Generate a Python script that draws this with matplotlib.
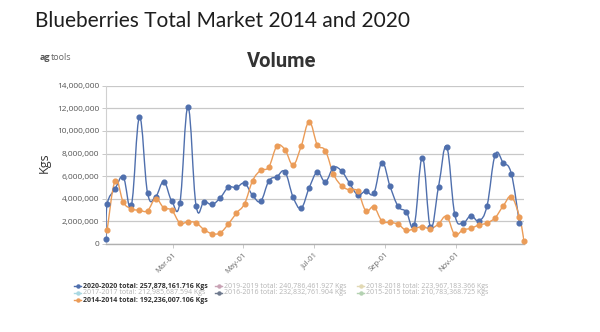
import numpy as np
import pandas as pd
import matplotlib
matplotlib.use('Agg')
import matplotlib.pyplot as plt
import matplotlib.dates as mdates
from matplotlib.path import Path
from matplotlib.patches import PathPatch
from matplotlib.lines import Line2D

# weekly volumes (million kg), 2014 season drawn on the 2020 calendar
weeks = pd.date_range('2020-01-04', periods=52, freq='7D')
vol_2020 = [3.5, 4.9, 5.9, 3.45, 11.2, 4.5, 4.2, 5.5, 3.8, 3.65,
            12.1, 3.4, 3.75, 3.5, 4.1, 5.0, 5.0, 5.36, 4.3, 3.8,
            5.57, 5.95, 6.37, 4.16, 3.18, 4.98, 6.34, 5.51, 6.75, 6.45,
            5.36, 4.36, 4.69, 4.51, 7.19, 5.1, 3.33, 2.86, 1.71, 7.63,
            1.47, 5.07, 8.61, 2.65, 1.86, 2.5, 2.06, 3.39, 7.87, 7.19,
            6.22, 1.86]
vol_2014 = [1.24, 5.6, 3.7, 3.12, 2.98, 2.95, 4.0, 3.2, 2.98, 1.86,
            1.97, 1.86, 1.27, 0.91, 1.0, 1.77, 2.74, 3.57, 5.6, 6.51,
            6.81, 8.64, 8.34, 7.01, 8.64, 10.79, 8.78, 8.25, 6.19, 5.16,
            4.77, 4.66, 2.95, 3.27, 2.03, 1.92, 1.74, 1.21, 1.36, 1.53,
            1.36, 1.77, 2.42, 0.85, 1.24, 1.39, 1.68, 1.86, 2.33, 3.36,
            4.16, 2.42]
# partial weeks at the year edges
lead_2020 = (pd.Timestamp('2020-01-03'), 0.41)
tail_2014 = (pd.Timestamp('2020-12-30'), 0.27)

legend_labels = ['2020-2020 total: 257,878,161.716 Kgs',
                 '2019-2019 total: 240,786,461.927 Kgs',
                 '2018-2018 total: 223,967,183.366 Kgs',
                 '2017-2017 total: 212,985,687.594 Kgs',
                 '2016-2016 total: 232,832,761.904 Kgs',
                 '2015-2015 total: 210,783,368.725 Kgs',
                 '2014-2014 total: 192,236,007.106 Kgs']
legend_colors = ['#4f6fad', '#c9a3b5', '#e2d9b4', '#a9d8e2', '#6f7a8e', '#b4d2b2', '#eb9c58']
legend_on = [True, False, False, False, False, False, True]

blue = '#4f6fad'
orange = '#eb9c58'

x20 = [lead_2020[0]] + list(weeks)
y20 = np.array([lead_2020[1]] + vol_2020) * 1e6
x14 = list(weeks) + [tail_2014[0]]
y14 = np.array(vol_2014 + [tail_2014[1]]) * 1e6

W, H = 600, 332
fig = plt.figure(figsize=(6, 3.32), dpi=100)
ax = fig.add_axes([106 / W, 1 - 244 / H, 418 / W, 158.3 / H])

ax.set_xlim(mdates.date2num(x20[0]), mdates.date2num(x14[-1]))
ax.set_ylim(0, 14e6)


def smooth_path(ax, xs, ys, k=0.2):
    # cardinal spline through the points, drawn as cubic bezier segments
    pts = ax.transData.transform(np.column_stack([mdates.date2num(xs), ys]))
    n = len(pts)
    tang = np.zeros_like(pts)
    for i in range(n):
        p = pts[i - 1] if i > 0 else pts[i]
        nx = pts[i + 1] if i < n - 1 else pts[i]
        tang[i] = k * (nx - p)
    verts = [pts[0]]
    codes = [Path.MOVETO]
    for i in range(1, n):
        verts += [pts[i - 1] + tang[i - 1], pts[i] - tang[i], pts[i]]
        codes += [Path.CURVE4] * 3
    verts = ax.transData.inverted().transform(np.array(verts))
    return Path(verts, codes)


for xs, ys, c in [(x20, y20, blue), (x14, y14, orange)]:
    ax.add_patch(PathPatch(smooth_path(ax, xs, ys), fill=False, edgecolor=c, lw=1.0, zorder=3))
    ax.plot(xs, ys, 'o', color=c, ms=3.4, zorder=4, clip_on=False)

ax.set_yticks(np.arange(0, 14e6 + 1, 2e6))
ax.yaxis.set_major_formatter(matplotlib.ticker.FuncFormatter(lambda v, p: f'{v:,.0f}'))
ax.grid(axis='y', color='#c8c8c8', lw=0.9)
ax.set_axisbelow(True)

xt = pd.to_datetime(['2020-03-01', '2020-05-01', '2020-07-01', '2020-09-01', '2020-11-01'])
ax.set_xticks(mdates.date2num(xt))
ax.xaxis.set_major_formatter(mdates.DateFormatter('%b-%d'))
for lab in ax.get_xticklabels():
    lab.set_rotation(45)
    lab.set_ha('right')
    lab.set_rotation_mode('anchor')

ax.tick_params(axis='y', length=3, width=0.6, color='#c0c0c0', labelsize=6, labelcolor='#555555', pad=2)
ax.tick_params(axis='x', length=3, width=0.6, color='#c0c0c0', labelsize=5.5, labelcolor='#666666', pad=2)
for lab in ax.get_xticklabels() + ax.get_yticklabels():
    lab.set_fontfamily('Open Sans')

for s in ['top', 'right']:
    ax.spines[s].set_visible(False)
ax.spines['left'].set_color('#d0d0d0')
ax.spines['left'].set_linewidth(0.8)
ax.spines['bottom'].set_color('#b0b0b0')
ax.spines['bottom'].set_linewidth(1.0)

fig.text(44 / W, 1 - 163 / H, 'Kgs', rotation=90, ha='center', va='center',
         fontsize=9, color='#333333', family='Open Sans')

fig.text(35 / W, 1 - 21 / H, 'Blueberries Total Market 2014 and 2020',
         ha='left', va='center', fontsize=15, color='#1e1e1e', family='Lato')

ag = fig.text(40 / W, 1 - 57 / H, 'ag', ha='left', va='center',
              fontsize=6.5, fontweight='bold', color='#555555', family='Open Sans')
fig.canvas.draw()
bb = ag.get_window_extent()
fig.text(bb.x1 / W, 1 - 57 / H, 'tools', ha='left', va='center',
         fontsize=6.5, color='#666666', family='Open Sans')

fig.text(282 / W, 1 - 61.5 / H, 'Volume', ha='center', va='center',
         fontsize=14.5, fontweight='bold', color='#333333', family='Roboto')

# legend, three columns
col_x = [74, 215, 357]
row_y = [286, 293, 300]
for i, (lab, c, on) in enumerate(zip(legend_labels, legend_colors, legend_on)):
    r, k = divmod(i, 3)
    x0, y0 = col_x[k], row_y[r]
    yf = 1 - y0 / H
    fig.add_artist(Line2D([x0 / W, (x0 + 7) / W], [yf, yf], color=c, lw=1.0))
    fig.add_artist(Line2D([(x0 + 3.5) / W], [yf], marker='o', ms=2.2, color=c, lw=0))
    fig.text((x0 + 9) / W, yf, lab, ha='left', va='center', fontsize=5,
             fontweight='bold' if on else 'normal',
             color='#333333' if on else '#b4b4b4', family='Open Sans')

fig.savefig('out.png', dpi=100)
